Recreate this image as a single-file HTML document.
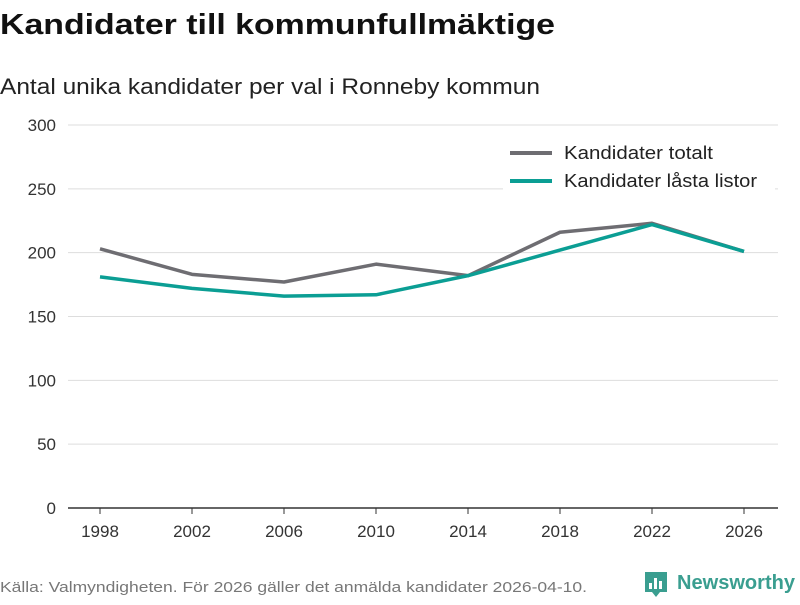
<!DOCTYPE html>
<html><head><meta charset="utf-8"><style>
body{margin:0;background:#fff;width:800px;height:600px;overflow:hidden;font-family:"Liberation Sans",sans-serif}
</style></head><body>
<svg width="800" height="600" font-family="Liberation Sans, sans-serif">
<text x="0" y="34" font-size="29" font-weight="bold" fill="#111" textLength="555" lengthAdjust="spacingAndGlyphs">Kandidater till kommunfullmäktige</text>
<text x="0" y="94" font-size="22" fill="#222" textLength="540" lengthAdjust="spacingAndGlyphs">Antal unika kandidater per val i Ronneby kommun</text>
<g id="grid"></g><g id="xaxis"></g><g id="lines"></g>
<g>
<rect x="503" y="138" width="272" height="62" fill="#fff"/>
<line x1="510" y1="153" x2="552" y2="153" stroke="#6e6d72" stroke-width="4"/>
<text x="564" y="159" font-size="18" fill="#222" textLength="149" lengthAdjust="spacingAndGlyphs">Kandidater totalt</text>
<line x1="510" y1="181" x2="552" y2="181" stroke="#0b9e94" stroke-width="4"/>
<text x="564" y="187" font-size="18" fill="#222" textLength="193" lengthAdjust="spacingAndGlyphs">Kandidater låsta listor</text>
</g>
<text x="0" y="592" font-size="15" fill="#777" textLength="587" lengthAdjust="spacingAndGlyphs">Källa: Valmyndigheten. För 2026 gäller det anmälda kandidater 2026-04-10.</text>
<g>
<path d="M645 572h22v20h-7l-4 5-4-5h-7z" fill="#3a9e90"/>
<rect x="649" y="583" width="3" height="6" fill="#fff"/><rect x="654" y="578" width="3" height="11" fill="#fff"/><rect x="659" y="581" width="3" height="8" fill="#fff"/>
<text x="677" y="589" font-size="20" font-weight="bold" fill="#3a9e90" textLength="118" lengthAdjust="spacingAndGlyphs">Newsworthy</text>
</g>
</svg>
<script>
const years=[1998,2002,2006,2010,2014,2018,2022,2026];
const totalt=[203,183,177,191,182,216,223,201];
const lasta=[181,172,166,167,182,202,222,201];
const yTicks=[0,50,100,150,200,250,300];
const NS="http://www.w3.org/2000/svg";
const xs=y=>100+(y-1998)/28*644;
const ys=v=>508-v/300*383;
function mk(t,a,p){const e=document.createElementNS(NS,t);for(const k in a)e.setAttribute(k,a[k]);p.appendChild(e);return e;}
const grid=document.getElementById('grid');
yTicks.forEach(v=>{
 const l=mk('line',{x1:68,x2:778,y1:ys(v),y2:ys(v),stroke:v===0?'#333':'#ddd','stroke-width':v===0?1.5:1},grid);
 
 
 const t=mk('text',{x:56,y:ys(v)+6,'text-anchor':'end','font-size':17,fill:'#333'},grid);t.textContent=v;
 
 
});
const xa=document.getElementById('xaxis');
years.forEach(y=>{
 const l=mk('line',{x1:xs(y),x2:xs(y),y1:508,y2:514,stroke:'#333'},xa);
 
 
 const t=mk('text',{x:xs(y),y:537,'text-anchor':'middle','font-size':17,fill:'#333'},xa);t.textContent=y;
 
 
});
const lg=document.getElementById('lines');
[[totalt,'#6e6d72','line-totalt'],[lasta,'#0b9e94','line-lasta']].forEach(([d,c,n])=>{
 const p=mk('polyline',{points:d.map((v,i)=>xs(years[i])+','+ys(v)).join(' '),fill:'none',stroke:c,'stroke-width':3.5,'stroke-linejoin':'round'},lg);
 
 
});
</script>
</body></html>
